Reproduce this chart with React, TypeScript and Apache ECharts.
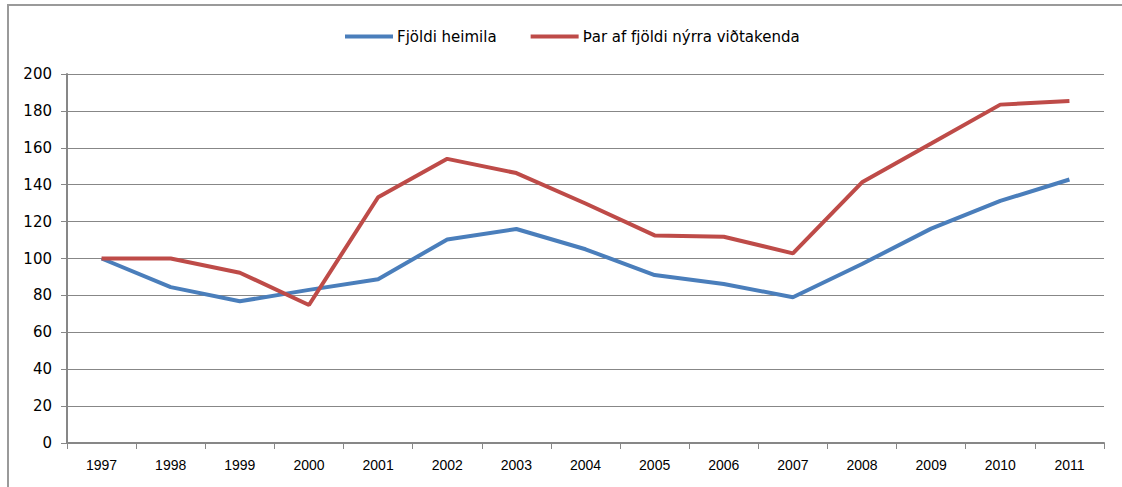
import React, { useEffect, useRef } from "react";
import * as echarts from "echarts";

const years = ["1997","1998","1999","2000","2001","2002","2003","2004","2005","2006","2007","2008","2009","2010","2011"];
const heimila = [100, 84.5, 76.8, 83, 88.8, 110.3, 116, 105, 91, 86.2, 79, 97, 116.2, 131.2, 142.8];
const nyrra = [100, 100, 92.3, 74.8, 133.2, 154, 146.3, 129.8, 112.5, 111.8, 102.8, 141.3, 162.3, 183.4, 185.3];
const seriesNames = ["Fjöldi heimila", "Þar af fjöldi nýrra viðtakenda"];

export default function App() {
  const ref = useRef<HTMLDivElement>(null);
  useEffect(() => {
    const chart = echarts.init(ref.current!, null, { renderer: "svg" });
    const font = "'Liberation Sans', Arial, sans-serif";
    const wide = "'DejaVu Sans', Verdana, sans-serif";
    chart.setOption({
      animation: false,
      backgroundColor: "#ffffff",
      textStyle: { fontFamily: font },
      graphic: [
        {
          type: "rect",
          shape: { x: 8, y: 5, width: 1300, height: 700 },
          style: { fill: "none", stroke: "#9a9a9a", lineWidth: 2 },
          silent: true,
        },
      ],
      legend: {
        top: 24,
        left: 340,
        itemWidth: 48,
        itemHeight: 4,
        itemGap: 34,
        icon: "rect",
        textStyle: { fontSize: 15, color: "#000", fontFamily: wide, padding: [0, 0, 0, -1] },
        data: seriesNames,
      },
      grid: { left: 67, right: 18, top: 74, bottom: 44 },
      xAxis: {
        type: "category",
        data: years,
        boundaryGap: true,
        axisLine: { lineStyle: { color: "#878787", width: 2 } },
        axisTick: { show: true, length: 6, interval: 0, lineStyle: { color: "#878787" } },
        axisLabel: { color: "#000", fontSize: 14, margin: 15, fontFamily: font, interval: 0 },
        splitLine: { show: false },
      },
      yAxis: {
        type: "value",
        min: 0,
        max: 200,
        interval: 20,
        axisLine: { show: true, lineStyle: { color: "#878787", width: 2 } },
        axisTick: { show: true, length: 6, lineStyle: { color: "#878787" } },
        axisLabel: { color: "#000", fontSize: 15, margin: 15, fontFamily: wide },
        splitLine: { show: true, lineStyle: { color: "#878787", width: 1.2 } },
      },
      series: [
        {
          name: seriesNames[0],
          type: "line",
          data: heimila,
          symbol: "none",
          lineStyle: { color: "#4a7ebb", width: 4 },
          itemStyle: { color: "#4a7ebb" },
        },
        {
          name: seriesNames[1],
          type: "line",
          data: nyrra,
          symbol: "none",
          lineStyle: { color: "#be4b48", width: 4 },
          itemStyle: { color: "#be4b48" },
        },
      ],
    });
    return () => chart.dispose();
  }, []);
  return (
    <div
      ref={ref}
      style={{ position: "fixed", left: 0, top: 0, width: 1122, height: 487 }}
    />
  );
}
